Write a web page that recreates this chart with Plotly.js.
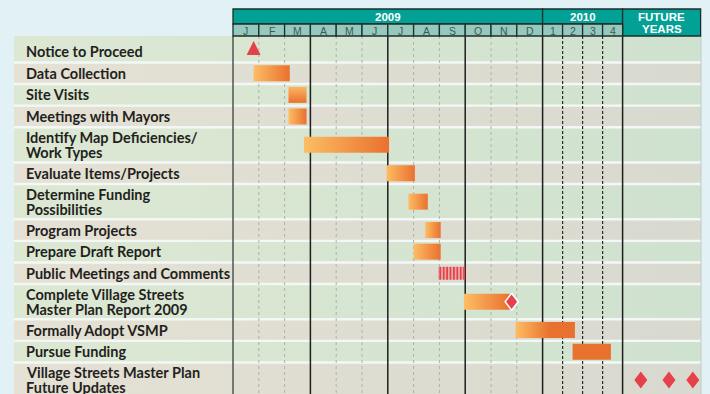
<!DOCTYPE html>
<html>
<head>
<meta charset="utf-8">
<script src="https://cdn.plot.ly/plotly-3.0.1.min.js"></script>
<style>
  html, body { margin: 0; padding: 0; background: #e1f1f6; }
  #chart { width: 710px; height: 394px; }
</style>
</head>
<body>
<div id="chart"></div>
<script>
// schedule rows, top to bottom
const tasks = [
  'Notice to Proceed',
  'Data Collection',
  'Site Visits',
  'Meetings with Mayors',
  'Identify Map Deficiencies/<br>Work Types',
  'Evaluate Items/Projects',
  'Determine Funding<br>Possibilities',
  'Program Projects',
  'Prepare Draft Report',
  'Public Meetings and Comments',
  'Complete Village Streets<br>Master Plan Report 2009',
  'Formally Adopt VSMP',
  'Pursue Funding',
  'Village Streets Master Plan<br>Future Updates'
];

// bars, in months counted from 1 Jan 2009 (null = no bar on that row)
const barStart = [null, 0.8, 2.15, 2.15, 2.75, 5.95, 6.8, 7.45, 7.0, null, 8.95, 10.95, 16.5, null];
const barEnd   = [null, 2.2, 2.85, 2.85, 6.05, 7.05, 7.55, 8.05, 8.05, null, 10.75, 16.85, 22.25, null];

// public meetings: hatched span
const meetingRow = 9;
const meetingStart = 7.95;
const meetingEnd = 9.0;

// milestones
const msRow   = [0, 10, 13, 13, 13];
const msMonth = [0.8, 10.8, 32.4, 45.4, 56.4];
const msKind  = ['start', 'report', 'update', 'update', 'update'];

// header labels
const years = ['2009', '2010'];
const months = ['J', 'F', 'M', 'A', 'M', 'J', 'J', 'A', 'S', 'O', 'N', 'D'];
const quarters = ['1', '2', '3', '4'];
const futureLabel = ['FUTURE', 'YEARS'];

// ---- geometry ----
const W = 710, H = 394;
const MONTH_PX = 25.8, QUARTER_PX = 20, FUTURE_PX = 78, ROW_PX = 21.6;
const GRID_LEFT = 233, PANEL_LEFT = 14, GRID_RIGHT = 701, LABEL_LEFT = 24;
const HEAD_TOP = 9, HEAD_MID = 24, HEAD_BOTTOM = 36;

const Q = QUARTER_PX / MONTH_PX;
const F = FUTURE_PX / MONTH_PX;
// 2009 by month, 2010 by quarter, then the future years column (3 years wide)
function tx (m) {
  if (m <= 12) return m;
  if (m <= 24) return 12 + (m - 12) / 3 * Q;
  return 12 + 4 * Q + (m - 24) / 36 * F;
}
const xp = px => (px - GRID_LEFT) / MONTH_PX;
const yp = px => (px - HEAD_BOTTOM) / ROW_PX;
const dx = px => px / MONTH_PX;
const dy = px => px / ROW_PX;

const ORANGE_LIGHT = '#fdbd64';
const ORANGE = '#e9712f';
const RED = '#e8404a';

// row bands
const GAP = dy(2.4);
const rows = [];
let rowTop = 0;
tasks.forEach((t, i) => {
  const lines = t.split('<br>');
  const h = i === 0 ? 1.28 : (lines.length > 1 ? 1.63 : 1);
  const bottom = rowTop + h - GAP;
  rows.push({ top: rowTop, bottom, mid: (rowTop + bottom) / 2, lines });
  rowTop += h;
});

const traces = [];
const box = (x0, x1, y0, y1) => ({ x: [x0, x1, x1, x0, x0], y: [y0, y0, y1, y1, y0] });

rows.forEach((r, i) => {
  const b = box(xp(PANEL_LEFT), xp(GRID_RIGHT), r.top, r.bottom);
  traces.push({
    type: 'scatter', mode: 'none', x: b.x, y: b.y, fill: 'toself',
    fillgradient: {
      type: 'horizontal',
      colorscale: i % 2 ? [[0, '#e5e1d4'], [1, '#d8d9cf']] : [[0, '#dde8d3'], [1, '#cfe2cf']]
    },
    hoverinfo: 'skip'
  });
});

// grid lines
const yLine = [0, yp(H) + 1];
function vlines (xs, color, dash, width) {
  const x = [], y = [];
  xs.forEach(v => { x.push(v, v, null); y.push(yLine[0], yLine[1], null); });
  traces.push({ type: 'scatter', mode: 'lines', x, y, line: { color, dash, width }, hoverinfo: 'skip' });
}
vlines([1, 2, 4, 5, 7, 8, 10, 11], '#aeb2ac', '3px,3px', 1);
vlines([tx(15), tx(18), tx(21)], '#2a2a2a', '3px,2px', 1.2);
vlines([3, 6, 9, 12, tx(24)], '#1e1e1e', 'solid', 1.5);
vlines([0], '#4f5552', 'solid', 1.5);
vlines([xp(GRID_RIGHT)], '#c3ccc6', 'solid', 1);

// bars
const VERTICAL_FADE = ['Site Visits'];
const SOLID = ['Pursue Funding'];
const SHORT_FADE = ['Formally Adopt VSMP'];
tasks.forEach((t, i) => {
  if (barStart[i] == null) return;
  const b = box(tx(barStart[i]), tx(barEnd[i]), rows[i].mid - dy(8), rows[i].mid + dy(8));
  let grad = { type: 'horizontal', colorscale: [[0, ORANGE_LIGHT], [1, ORANGE]] };
  if (VERTICAL_FADE.includes(t)) grad = { type: 'vertical', colorscale: [[0, ORANGE], [1, '#fbb761']] };
  if (SHORT_FADE.includes(t)) grad.colorscale = [[0, ORANGE_LIGHT], [0.58, ORANGE], [1, ORANGE]];
  const tr = { type: 'scatter', mode: 'none', x: b.x, y: b.y, fill: 'toself', hoverinfo: 'skip' };
  if (SOLID.includes(t)) tr.fillcolor = ORANGE; else tr.fillgradient = grad;
  traces.push(tr);
});

// hatched public meetings span
const hb = box(tx(meetingStart), tx(meetingEnd), rows[meetingRow].mid - dy(6.5), rows[meetingRow].mid + dy(6.5));
traces.push({
  type: 'scatter', mode: 'none', x: hb.x, y: hb.y, fill: 'toself',
  fillpattern: { shape: '|', fgcolor: RED, bgcolor: 'rgba(240,150,150,0.35)', size: 3.4, solidity: 0.6 },
  hoverinfo: 'skip'
});

// milestone glyphs
function glyphs (kind, pts) {
  const x = [], y = [];
  msKind.forEach((k, j) => {
    if (k !== kind) return;
    const cx = tx(msMonth[j]), cy = rows[msRow[j]].mid;
    pts.forEach(p => { x.push(cx + dx(p[0])); y.push(cy + dy(p[1])); });
    x.push(null); y.push(null);
  });
  return { x, y };
}
const tri = glyphs('start', [[0, -7.5], [7, 6.5], [-7, 6.5], [0, -7.5]]);
traces.push({ type: 'scatter', mode: 'none', x: tri.x, y: tri.y, fill: 'toself', fillcolor: RED, hoverinfo: 'skip' });
const diamond = [[0, -8.5], [6.5, 0], [0, 8.5], [-6.5, 0], [0, -8.5]];
const rep = glyphs('report', diamond);
traces.push({ type: 'scatter', mode: 'lines', x: rep.x, y: rep.y, fill: 'toself', fillcolor: RED, line: { color: '#ffffff', width: 1.5 }, hoverinfo: 'skip' });
const upd = glyphs('update', diamond);
traces.push({ type: 'scatter', mode: 'none', x: upd.x, y: upd.y, fill: 'toself', fillcolor: RED, hoverinfo: 'skip' });

// header
const shapes = [];
const annotations = [];
const TEAL = '#03a195', TEAL_LIGHT = '#96c8be', EDGE = '#1c2f2c';
const headBox = (x0, x1, y0, y1, fill) => shapes.push({
  type: 'rect', xref: 'x', yref: 'y', x0, x1, y0: yp(y0), y1: yp(y1),
  fillcolor: fill, line: { color: EDGE, width: 1.3 }, layer: 'above'
});
const headText = (text, x, ypx, font) => annotations.push({
  text, x, y: yp(ypx), xref: 'x', yref: 'y', showarrow: false, font
});
const yearFont = { family: 'Liberation Sans', size: 11.5, color: '#ffffff', weight: 'bold' };
const cellFont = { family: 'Liberation Sans', size: 10.5, color: '#3e5a55' };

headBox(0, 12, HEAD_TOP, HEAD_MID, TEAL);
headBox(12, tx(24), HEAD_TOP, HEAD_MID, TEAL);
headBox(tx(24), tx(60), HEAD_TOP, HEAD_BOTTOM, TEAL);
headText(years[0], 6, 17, yearFont);
headText(years[1], tx(18), 17, yearFont);
headText(futureLabel[0], tx(42), 16.5, yearFont);
headText(futureLabel[1], tx(42), 29, yearFont);
months.forEach((m, i) => {
  headBox(i, i + 1, HEAD_MID, HEAD_BOTTOM, TEAL_LIGHT);
  headText(m, i + 0.5, 30.5, cellFont);
});
quarters.forEach((q, i) => {
  const a = tx(12 + i * 3), b = tx(15 + i * 3);
  headBox(a, b, HEAD_MID, HEAD_BOTTOM, TEAL_LIGHT);
  headText(q, (a + b) / 2, 30.5, cellFont);
});

// white backing behind the row gaps
shapes.push({
  type: 'rect', xref: 'x', yref: 'y', x0: xp(PANEL_LEFT), x1: xp(GRID_RIGHT), y0: 0, y1: yp(H) + 1,
  fillcolor: '#f3f8f6', line: { width: 0 }, layer: 'below'
});

// task labels (line pitch is tighter than plotly's own <br>)
const labelFont = { family: 'Lato', size: 14.5, color: '#231f20', weight: 'bold' };
rows.forEach((r, i) => {
  const n = r.lines.length;
  // the first band runs up into the header, its label sits a little low
  const nudge = i === 0 ? dy(2.5) : 0;
  r.lines.forEach((line, k) => {
    annotations.push({
      text: line, xref: 'x', yref: 'y', x: xp(LABEL_LEFT), xanchor: 'left',
      y: r.mid + nudge + dy((k - (n - 1) / 2) * 15), yanchor: 'middle',
      showarrow: false, font: labelFont
    });
  });
});

const layout = {
  width: W, height: H,
  margin: { l: 0, r: 0, t: 0, b: 0 },
  paper_bgcolor: '#e1f1f6', plot_bgcolor: 'rgba(0,0,0,0)',
  showlegend: false, hovermode: false,
  xaxis: { range: [xp(0), xp(W)], visible: false, fixedrange: true },
  yaxis: { range: [yp(H), yp(0)], visible: false, fixedrange: true },
  shapes, annotations
};

Plotly.newPlot('chart', traces, layout, { displayModeBar: false, staticPlot: true });
</script>
</body>
</html>
